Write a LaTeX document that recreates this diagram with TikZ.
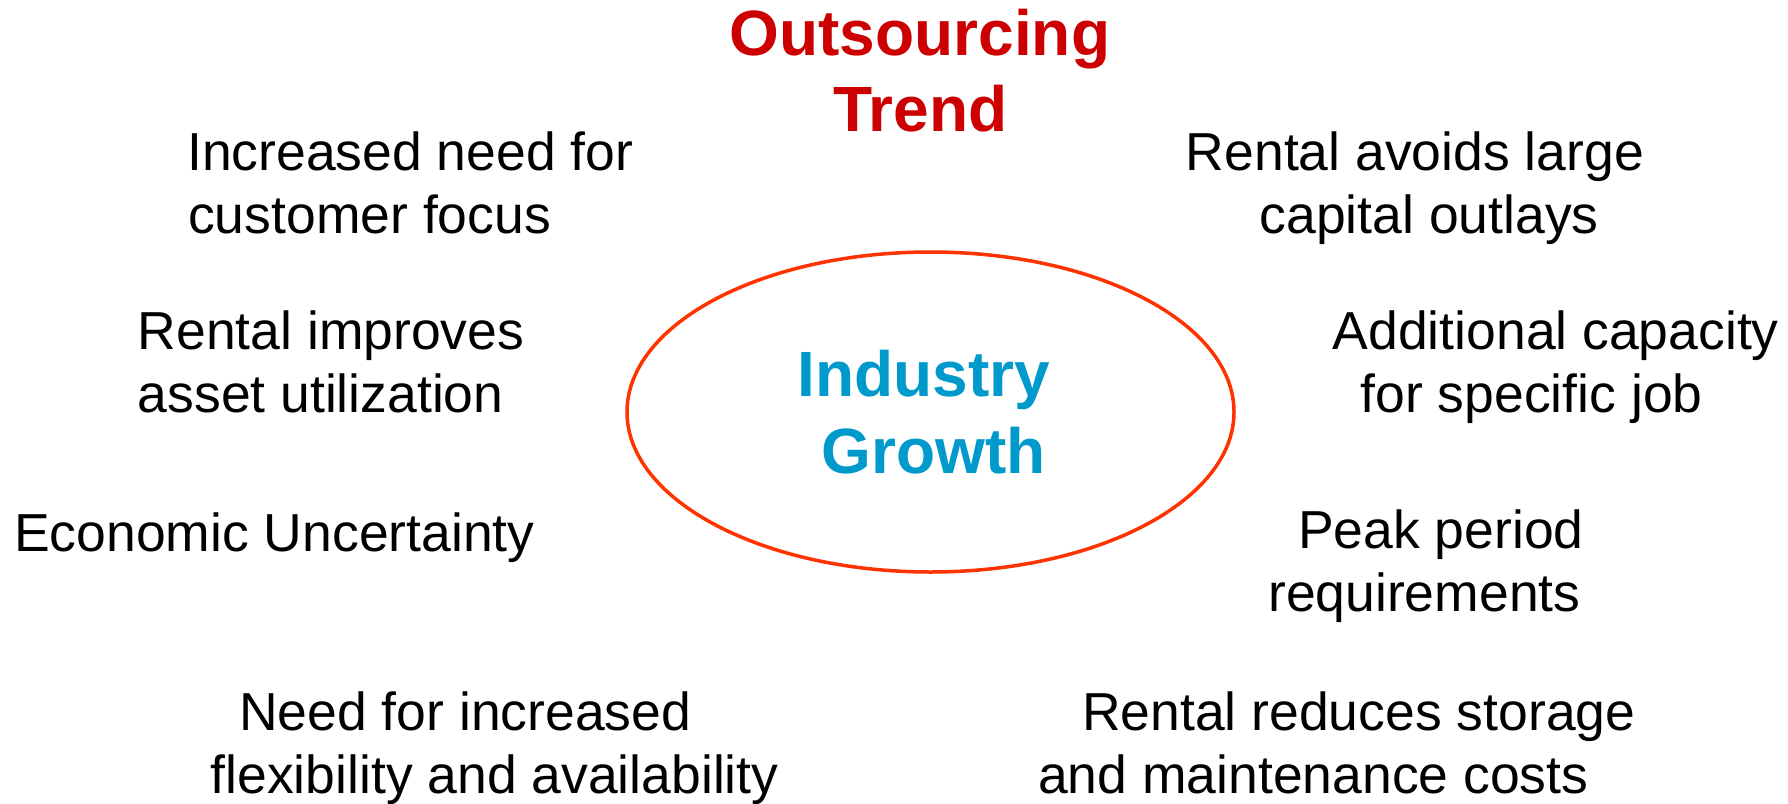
\documentclass[tikz,border=0pt]{standalone}
\usepackage{fontspec}
\setmainfont{Liberation Sans}
\definecolor{titlered}{HTML}{CC0000}
\definecolor{growthblue}{HTML}{0099CC}
\definecolor{ringred}{HTML}{FF3300}
\tikzset{
  item/.style={font=\fontsize{53.5}{63}\selectfont, text=black, anchor=base west, inner sep=0pt},
  headline/.style={font=\fontsize{64}{77}\selectfont\bfseries, anchor=base west, inner sep=0pt},
  ring/.style={draw=ringred, line width=3.5pt}
}
\begin{document}
\begin{tikzpicture}[x=1pt,y=-1pt]
\useasboundingbox (0,0) rectangle (1788,803);
% central ellipse
\draw[ring] (930.5,412) ellipse [x radius=303.5pt, y radius=160pt];
% headings
\node[headline, text=titlered] (out1) at (729.5,55) {Outsourcing};
\node[headline, text=titlered] (out2) at (833,131.7) {Trend};
\node[headline, text=growthblue] (ind1) at (797.3,396.7) {Industry};
\node[headline, text=growthblue] (ind2) at (821.5,473.3) {Growth};
% left column
\node[item] (l1a) at (187,170.7) {Increased need for};
\node[item] (l1b) at (188,233.3) {customer focus};
\node[item] (l2a) at (137.6,349.3) {Rental improves};
\node[item] (l2b) at (137.6,412.5) {asset utilization};
\node[item] (l3) at (14,551) {Economic Uncertainty};
\node[item] (l4a) at (239,730) {Need for increased};
\node[item] (l4b) at (210.5,793.3) {flexibility and availability};
% right column
\node[item] (r1a) at (1185.7,170.7) {Rental avoids large};
\node[item] (r1b) at (1259.5,233.3) {capital outlays};
\node[item] (r2a) at (1332.5,349.3) {Additional capacity};
\node[item] (r2b) at (1360.5,412.5) {for specific job};
\node[item] (r3a) at (1298,548.3) {Peak period};
\node[item] (r3b) at (1268,611.5) {requirements};
\node[item] (r4a) at (1082,730) {Rental reduces storage};
\node[item] (r4b) at (1038,793.3) {and maintenance costs};
\end{tikzpicture}
\end{document}
